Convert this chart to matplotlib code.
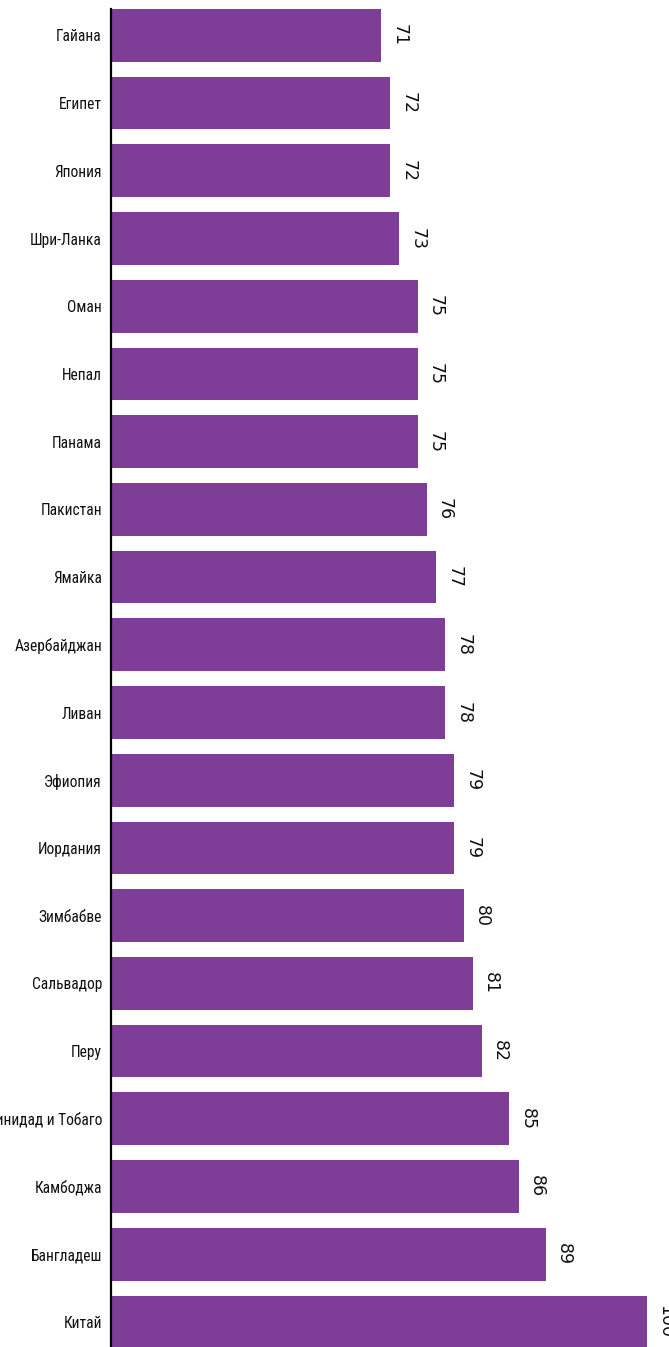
import matplotlib
matplotlib.use("Agg")
from matplotlib import pyplot as plt

countries = ["Гайана", "Египет", "Япония", "Шри-Ланка", "Оман", "Непал", "Панама",
             "Пакистан", "Ямайка", "Азербайджан", "Ливан", "Эфиопия", "Иордания",
             "Зимбабве", "Сальвадор", "Перу", "Тринидад и Тобаго", "Камбоджа",
             "Бангладеш", "Китай"]
values = [71, 72, 72, 73, 75, 75, 75, 76, 77, 78, 78, 79, 79, 80, 81, 82, 85, 86, 89, 100]

bar_color = "#7e3d97"

fig = plt.figure(figsize=(6.69, 13.47), dpi=100)
# axes from x=111px to right edge, y from 9px to bottom edge
ax = fig.add_axes([111 / 669, 0, 1 - 111 / 669, 1 - 9 / 1347])

pos = list(range(len(countries)))
ax.barh(pos, values, height=0.778, color=bar_color)

ax.set_xlim(41.5, 102.43)
ax.set_ylim(19.37, -0.39)

ax.set_yticks(pos)
ax.set_yticklabels(countries,
                   family=["Roboto Condensed", "Liberation Sans Narrow", "Roboto", "DejaVu Sans"],
                   fontstretch="condensed", fontsize=11.2, color="#111111")
ax.tick_params(axis="y", length=0, pad=6.5)
ax.set_xticks([])

for s in ["top", "right", "bottom"]:
    ax.spines[s].set_visible(False)
ax.spines["left"].set_linewidth(1.6)
ax.spines["left"].set_color("black")

for p, v in zip(pos, values):
    ax.annotate(str(v), xy=(v, p), xytext=(6.5, 0), textcoords="offset points",
                rotation=270, ha="left", va="center", fontsize=12.5, color="#111111")

fig.savefig("out.png", dpi=100)
